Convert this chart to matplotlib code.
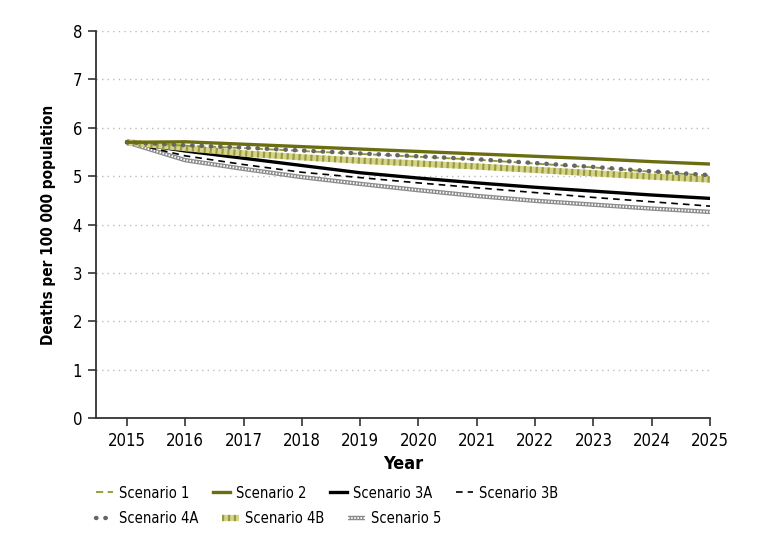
import numpy as np
import matplotlib
matplotlib.use("Agg")
import matplotlib.pyplot as plt
from matplotlib.legend_handler import HandlerTuple

plt.rcParams['font.family'] = ['DejaVu Sans']
plt.rcParams['font.stretch'] = 'condensed'

# projected deaths per 100 000 population, by scenario
years = [2015, 2016, 2017, 2018, 2019, 2020, 2021, 2022, 2023, 2024, 2025]
scen1 = [5.70, 5.63, 5.58, 5.52, 5.46, 5.40, 5.34, 5.26, 5.18, 5.09, 5.01]
scen2 = [5.70, 5.71, 5.66, 5.61, 5.56, 5.51, 5.46, 5.41, 5.36, 5.30, 5.25]
scen3a = [5.70, 5.52, 5.37, 5.22, 5.07, 4.96, 4.86, 4.77, 4.69, 4.61, 4.54]
scen3b = [5.70, 5.42, 5.24, 5.08, 4.97, 4.86, 4.76, 4.66, 4.56, 4.47, 4.38]
scen4a = [5.70, 5.64, 5.59, 5.53, 5.47, 5.41, 5.35, 5.27, 5.19, 5.10, 5.02]
scen4b = [5.70, 5.58, 5.47, 5.39, 5.32, 5.26, 5.20, 5.13, 5.06, 4.99, 4.93]
scen5 = [5.70, 5.33, 5.15, 4.98, 4.84, 4.71, 4.59, 4.49, 4.41, 4.33, 4.26]

fig = plt.figure(figsize=(7.71, 5.48), dpi=100)
ax = fig.add_axes([0.1245, 0.2372, 0.7965, 0.7062])

# scenario 5: grey hatched double line
s5a, = ax.plot(years, scen5, color='#8c8c8c', lw=3.2, solid_capstyle='butt')
s5b, = ax.plot(years, scen5, color='white', lw=1.4, ls=(0, (0.8, 0.8)))
# scenario 3B
s3b, = ax.plot(years, scen3b, color='black', lw=1.2, ls=(0, (4, 3)))
# scenario 3A
s3a, = ax.plot(years, scen3a, color='black', lw=2.4)
# scenario 4B: khaki striped
s4ba, = ax.plot(years, scen4b, color='#d4d48c', lw=4.5, solid_capstyle='butt')
s4bb, = ax.plot(years, scen4b, color='#9a9a3c', lw=4.5, ls=(0, (0.35, 0.6)))
# scenario 1
s1, = ax.plot(years, scen1, color='#8f9a2a', lw=1.3, ls=(0, (4, 2.5)))
# scenario 4A
s4a, = ax.plot(years, scen4a, color='#666666', lw=3.2, ls=(0, (0.1, 2.0)), dash_capstyle='round')
# scenario 2
s2, = ax.plot(years, scen2, color='#6b6e10', lw=2.4)

ax.set_xlim(2014.47, 2025)
ax.set_ylim(0, 8)
ax.set_xticks(years)
ax.set_yticks(range(0, 9))
for yv in range(1, 9):
    ax.axhline(yv, color='#bbbbbb', lw=1, ls=(0, (1, 3)), zorder=0)

for s in ['top', 'right']:
    ax.spines[s].set_visible(False)
for s in ['left', 'bottom']:
    ax.spines[s].set_color('#333333')
    ax.spines[s].set_linewidth(1.3)
ax.tick_params(axis='both', length=6, width=1.2, color='#333333', labelsize=12, pad=4)

ax.set_xlabel('Year', fontsize=13, fontweight='bold', labelpad=4)
ax.set_ylabel('Deaths per 100 000 population', fontsize=11, fontweight='bold', labelpad=12)

leg_kw = dict(loc='upper left', frameon=False, fontsize=10.5, handlelength=1.2,
              handletextpad=0.4, columnspacing=1.6, borderpad=0, borderaxespad=0,
              handler_map={tuple: HandlerTuple(ndivide=1)})
leg1 = fig.legend([s1, s2, s3a, s3b],
                  ['Scenario 1', 'Scenario 2', 'Scenario 3A', 'Scenario 3B'],
                  ncol=4, bbox_to_anchor=(0.124, 0.114), **leg_kw)
leg2 = fig.legend([s4a, (s4ba, s4bb), (s5a, s5b)],
                  ['Scenario 4A', 'Scenario 4B', 'Scenario 5'],
                  ncol=3, bbox_to_anchor=(0.124, 0.067), **leg_kw)

fig.savefig('out.png', dpi=100)
